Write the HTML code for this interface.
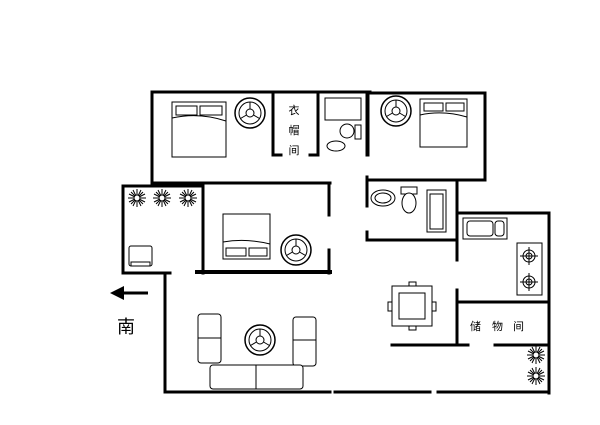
<!DOCTYPE html>
<html><head><meta charset="utf-8"><style>html,body{margin:0;padding:0;background:#fff}svg{display:block}</style></head><body>
<svg width="600" height="425" viewBox="0 0 600 425" xmlns="http://www.w3.org/2000/svg">
<defs>
<g id="tbl"><circle r="15" fill="#fff" stroke="#000" stroke-width="1.5"/><circle r="11" fill="none" stroke="#000"/><circle r="4" fill="none" stroke="#000"/><path d="M0-4V-11M-3.5 2L-9.5 5.5M3.5 2L9.5 5.5" stroke="#000" fill="none"/></g>
<g id="plant" stroke="#000" stroke-width="1" fill="none"><path d="M-9 0H9M0-9V9M-6-6L6 6M-6 6L6-6M-8-4L8 4M-8 4L8-4M-4-8L4 8M4-8L-4 8"/><circle r="3" fill="#fff"/></g>
<g id="burner" stroke="#000" fill="none"><circle r="6"/><circle r="3"/><path d="M-9 0H9M0-9V9"/></g>
</defs>
<g stroke="#000" stroke-width="3" fill="none" stroke-linecap="square">
<!-- top left bedroom -->
<path d="M152 92H370M152 92V183M152 183H330"/>
<path d="M273 92V155M273 155H281M310 155H318M318 92V155M368 92V155"/>
<!-- top right bedroom -->
<path d="M367 93H485V180H367M367 93V155"/>
<!-- bath2 -->
<path d="M367 177V206M367 232V240H457M457 180V260"/>
<!-- kitchen -->
<path d="M457 213H549V393M457 290V345M457 302H549"/>
<path d="M392 345H468M495 345H549"/>
<!-- balcony -->
<path d="M123 186H203M123 186V273H170"/>
<!-- bedroom2 -->
<path d="M203 183V273M203 183H330M329 183V215M329 250V273"/>
<path d="M197 272H330" stroke-width="4"/>
<!-- living -->
<path d="M165 273V392H330M335 392H430M438 392H549"/>
</g>
<!-- beds -->
<g stroke="#000" fill="#fff" stroke-width="1">
<rect x="172" y="102" width="54" height="55"/><rect x="176" y="106" width="21" height="9"/><rect x="200" y="106" width="22" height="9"/><path d="M172 118Q199 112 226 121" fill="none"/>
<rect x="420" y="99" width="47" height="48"/><rect x="424" y="103" width="19" height="8"/><rect x="446" y="103" width="18" height="8"/><path d="M420 115Q443 110 467 117" fill="none"/>
<rect x="223" y="214" width="47" height="45"/><rect x="226" y="248" width="20" height="8"/><rect x="249" y="248" width="18" height="8"/><path d="M223 242Q246 238 270 244" fill="none"/>
<!-- bath1 -->
<rect x="325" y="98" width="36" height="22"/><circle cx="347" cy="131" r="7"/><rect x="355" y="125" width="6" height="14"/><ellipse cx="336" cy="146" rx="9" ry="5"/>
<!-- bath2 -->
<ellipse cx="383" cy="198" rx="12" ry="8"/><ellipse cx="383" cy="198" rx="8" ry="5" fill="none"/><rect x="401" y="187" width="16" height="7"/><ellipse cx="409" cy="203" rx="7" ry="10"/><rect x="427" y="190" width="19" height="42"/><rect x="430" y="194" width="13" height="35" fill="none"/>
<!-- kitchen -->
<rect x="463" y="218" width="44" height="21"/><rect x="467" y="221" width="26" height="15" rx="3"/><rect x="495" y="221" width="9" height="15" rx="3"/>
<rect x="517" y="243" width="25" height="52"/><use href="#burner" x="529" y="256"/><use href="#burner" x="529" y="282"/>
<!-- dining -->
<rect x="392" y="286" width="40" height="40"/><rect x="399" y="293" width="26" height="26"/><rect x="409" y="282" width="7" height="4"/><rect x="409" y="326" width="7" height="4"/><rect x="388" y="302" width="4" height="9"/><rect x="432" y="302" width="4" height="9"/>
<!-- TV -->
<rect x="129" y="246" width="23" height="20" rx="2"/><rect x="131" y="262" width="19" height="4"/>
<!-- sofas -->
<rect x="198" y="314" width="23" height="49" rx="3"/><rect x="293" y="317" width="23" height="49" rx="3"/><rect x="210" y="365" width="93" height="24" rx="3"/><path d="M256 365V389M198 338H221M293 340H316" fill="none"/>
</g>
<use href="#tbl" x="250" y="113"/><use href="#tbl" x="396" y="111"/><use href="#tbl" x="296" y="250"/><use href="#tbl" x="260" y="340"/>
<use href="#plant" x="137" y="198"/><use href="#plant" x="162" y="198"/><use href="#plant" x="188" y="198"/><use href="#plant" x="536" y="355"/><use href="#plant" x="536" y="376"/>
<!-- arrow -->
<path d="M120 293H148" stroke="#000" stroke-width="3"/><path d="M110 293L124 286V300Z" fill="#000"/>
<g font-family="Liberation Sans,'Noto Sans CJK SC',sans-serif" fill="#000">
<text x="126" y="333" font-size="18" text-anchor="middle">南</text>
<text x="294" y="114" font-size="11" text-anchor="middle">衣</text>
<text x="294" y="134" font-size="11" text-anchor="middle">帽</text>
<text x="294" y="154" font-size="11" text-anchor="middle">间</text>
<text x="470" y="330" font-size="11">储</text><text x="492" y="330" font-size="11">物</text><text x="513" y="330" font-size="11">间</text>
</g>
</svg>
</body></html>
